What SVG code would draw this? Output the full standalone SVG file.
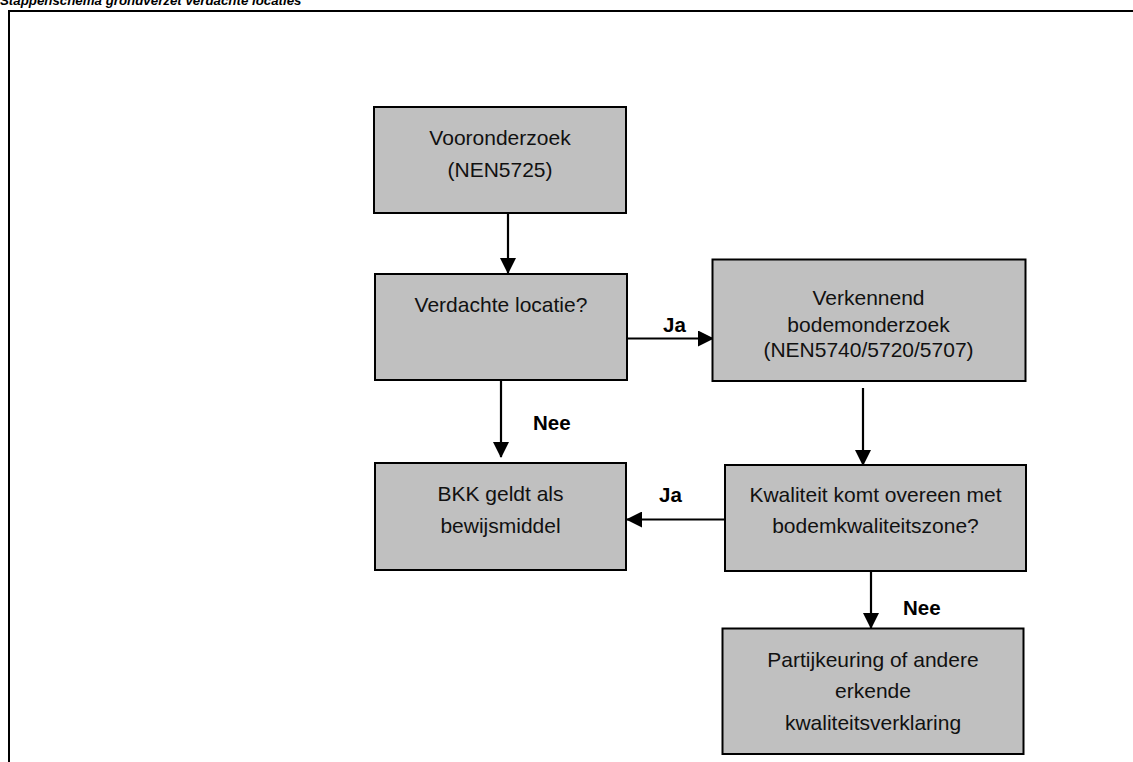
<svg xmlns="http://www.w3.org/2000/svg" width="1133" height="762" viewBox="0 0 1133 762">
<style>
.node{fill:#c0c0c0;stroke:#000;stroke-width:2}
.t{font-family:"Liberation Sans",Arial,sans-serif;font-size:21px;fill:#111;text-anchor:middle}
.lbl{font-family:"Liberation Sans",Arial,sans-serif;font-size:20.5px;font-weight:bold;fill:#000}
.edge{stroke:#000;stroke-width:2.2;fill:none;marker-end:url(#ah)}
</style>
<defs>
<marker id="ah" markerWidth="16" markerHeight="16" refX="15" refY="8" orient="auto" markerUnits="userSpaceOnUse">
<path d="M0,0 L16,8 L0,16 Z" fill="#000"/>
</marker>
</defs>
<rect width="1133" height="762" fill="#fff"/>
<text x="0" y="5" font-family="'Liberation Sans',Arial,sans-serif" font-size="13.3" font-weight="bold" font-style="italic">Stappenschema grondverzet verdachte locaties</text>
<rect x="9" y="11" width="1140" height="770" fill="none" stroke="#000" stroke-width="2"/>
<g id="connectors">
<line class="edge" x1="508" y1="213" x2="508" y2="273"/>
<line class="edge" x1="627" y1="338.5" x2="713" y2="338.5"/>
<line class="edge" x1="863" y1="388" x2="863" y2="465"/>
<line class="edge" x1="501" y1="380" x2="501" y2="457"/>
<line class="edge" x1="725" y1="519.5" x2="627" y2="519.5"/>
<line class="edge" x1="871" y1="571" x2="871" y2="628"/>
<text class="lbl" x="663" y="332">Ja</text>
<text class="lbl" x="533" y="430">Nee</text>
<text class="lbl" x="659" y="502">Ja</text>
<text class="lbl" x="903" y="615">Nee</text>
</g>
<g id="n1">
<rect class="node" x="374" y="107" width="252" height="106"/>
<text class="t" x="500" y="145">Vooronderzoek</text>
<text class="t" x="500" y="177">(NEN5725)</text>
</g>
<g id="n2">
<rect class="node" x="375" y="274" width="252" height="106"/>
<text class="t" x="501" y="311.5">Verdachte locatie?</text>
</g>
<g id="n3">
<rect class="node" x="712.5" y="259.5" width="313" height="121.5"/>
<text class="t" x="868.5" y="305">Verkennend</text>
<text class="t" x="868.5" y="331.5">bodemonderzoek</text>
<text class="t" x="868.5" y="357">(NEN5740/5720/5707)</text>
</g>
<g id="n4">
<rect class="node" x="725" y="465" width="301" height="106"/>
<text class="t" x="875.5" y="502">Kwaliteit komt overeen met</text>
<text class="t" x="875.5" y="533">bodemkwaliteitszone?</text>
</g>
<g id="n5">
<rect class="node" x="722.5" y="628.5" width="301" height="125.5"/>
<text class="t" x="873" y="666.5">Partijkeuring of andere</text>
<text class="t" x="873" y="698">erkende</text>
<text class="t" x="873" y="730">kwaliteitsverklaring</text>
</g>
<g id="n6">
<rect class="node" x="375" y="463" width="251" height="107"/>
<text class="t" x="500.5" y="500.5">BKK geldt als</text>
<text class="t" x="500.5" y="533">bewijsmiddel</text>
</g>
</svg>
